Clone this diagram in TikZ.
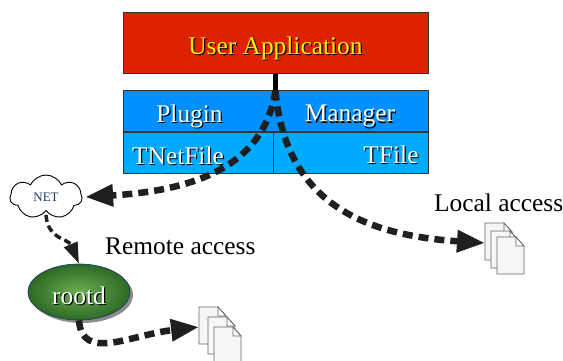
\documentclass[tikz,border=0pt]{standalone}
\usepackage{fontspec}
\setmainfont{Liberation Serif}
\usepackage{xcolor}
\usetikzlibrary{arrows.meta,shapes.geometric,shapes.symbols}

\definecolor{appred}{HTML}{DD2200}
\definecolor{plugblue}{HTML}{0090FF}
\definecolor{fileblue}{HTML}{00AAFF}
\definecolor{netblue}{HTML}{1F3A6E}
\definecolor{rootdark}{HTML}{2C6A24}
\definecolor{rootlight}{HTML}{6DAE52}
\definecolor{pagegray}{HTML}{F6F6F6}

% text with a small black copy behind it
\newcommand{\shadowtxt}[1]{\rlap{\hspace{1.2pt}\raisebox{-1.2pt}{\textcolor{black}{#1}}}#1}

\tikzset{
	boxpart/.style={draw=black!80,line width=0.7pt,minimum height=41pt,inner sep=0pt,outer sep=0pt},
	biglabel/.style={inner sep=0pt,font=\fontsize{25.4}{25.4}\selectfont},
	access/.style={line width=6.5pt,draw=black!88,dash pattern=on 10pt off 6pt,
		-{Triangle[length=28pt,width=21pt]}},
	thinaccess/.style={access,line width=3.5pt,dash pattern=on 7pt off 4pt,
		-{Triangle[length=21pt,width=14pt]}},
	docpage/.style={draw=black!60,line width=0.8pt,fill=pagegray},
	docfold/.style={draw=black!60,line width=0.8pt,fill=white}
}

\begin{document}
\begin{tikzpicture}[x=1pt,y=-1pt]
	\useasboundingbox (0,0) rectangle (563,360);

	% Draw the application and the manager boxes
	\node[boxpart,fill=appred,minimum width=305pt,minimum height=61pt] (userapp) at (275.5,42.5) {};
	\node[biglabel,text=yellow] (userlabel) at (275.5,49) {\shadowtxt{User Application}};
	\node[boxpart,fill=plugblue,minimum width=305pt] (manager) at (275.5,111) {};
	\node[boxpart,fill=fileblue,minimum width=150pt] (tnetfile) at (198,152.5) {};
	\node[boxpart,fill=fileblue,minimum width=155pt] (tfile) at (350.5,152.5) {};
	\node[biglabel,text=white] (pluginlabel) at (189.5,117) {\shadowtxt{Plugin}};
	\node[biglabel,text=white] (managerlabel) at (350,117) {\shadowtxt{Manager}};
	\node[biglabel,text=white] (tnetlabel) at (178,156.5) {\shadowtxt{TNetFile}};
	\node[biglabel,text=white] (tfilelabel) at (391,155.5) {\shadowtxt{TFile}};

	% Draw the cloud and the daemon
	\node[cloud,cloud puffs=7,cloud puff arc=130,aspect=1.7,draw=black,line width=0.9pt,fill=white,
		minimum width=72pt,minimum height=44pt,inner sep=0pt,outer sep=3pt,text=netblue,font=\fontsize{13}{13}\selectfont] (net) at (46,197) {NET};
	\fill[black!45] (82,295) ellipse (51 and 28);
	\node[ellipse,draw=netblue,line width=0.7pt,inner color=rootlight,outer color=rootdark,
		minimum width=102pt,minimum height=56pt,inner sep=0pt] (rootd) at (79,292) {};
	\node[biglabel,text=white] (rootdlabel) at (79,296) {\shadowtxt{rootd}};

	% Draw the two stacks of pages
	\foreach \x/\y in {485/223,491/231,497/237,199/307,208/317,214/327}{
		\draw[docpage] (\x,\y) -- ++(19,0) -- ++(8,9) -- ++(0,28) -- ++(-27,0) -- cycle;
		\draw[docfold] (\x+19,\y) -- ++(0,9) -- ++(8,0) -- cycle;
	}
	\coordinate (localdocs) at (485,243);
	\coordinate (remotedocs) at (199,327);

	% Label the two ways of access
	\node[biglabel,text=black,anchor=west] (locallabel) at (434,203) {Local access};
	\node[biglabel,text=black,anchor=west] (remotelabel) at (105,246) {Remote access};

	% Draw the connectors
	\draw[line width=5.5pt,draw=black] (userapp.south) -- (manager.north);
	\draw[access] (manager.north) .. controls (265,160) and (205,190) .. (net.east);
	\draw[access] (manager.north) .. controls (285,200) and (360,235) .. (localdocs);
	\draw[thinaccess] (net.south) .. controls (48,240) and (68,238) .. (rootd.north);
	\draw[access] (rootd.south) .. controls (82,362) and (130,335) .. (remotedocs);
\end{tikzpicture}
\end{document}
